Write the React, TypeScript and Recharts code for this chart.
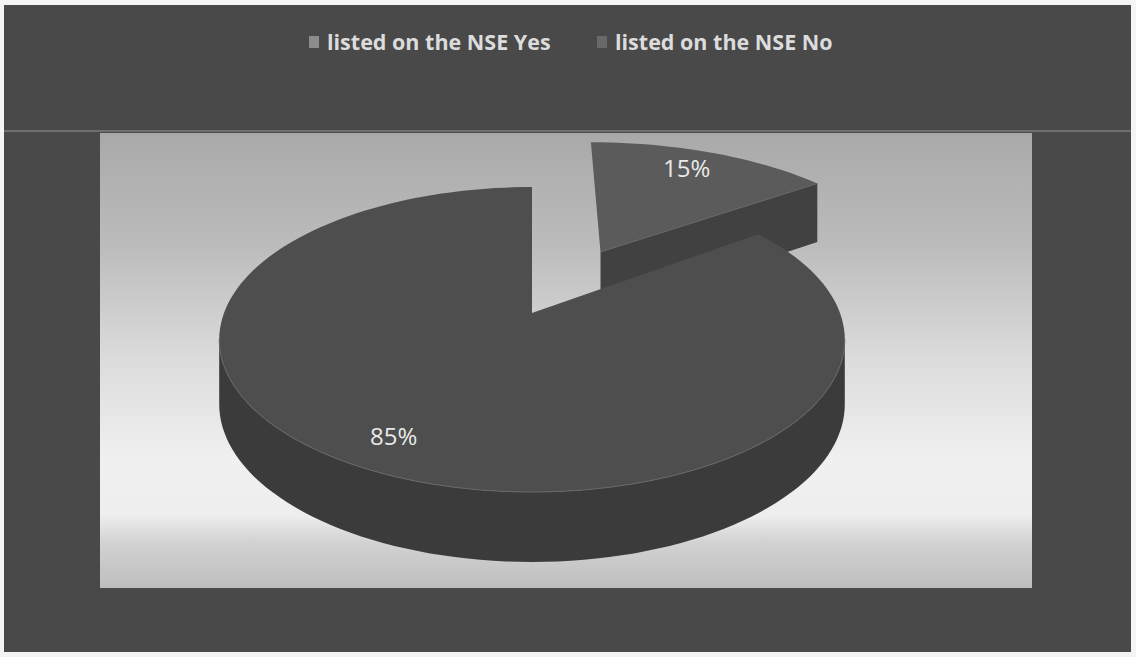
import React from "react";
import { Legend, Pie, PieChart } from "recharts";

const categories = ["listed on the NSE Yes", "listed on the NSE No"];
const shares = [15, 85];

const faceColors = ["#5b5b5b", "#4e4e4e"];
const wallColors = ["#414141", "#3b3b3b"];
const markerColors = ["#8c8c8c", "#696969"];

// disc seen from above: squash flattens it, tilt makes the far side shrink
const squash = 0.48;
const tilt = 0.174;
const wallHeight = 63.6;
const explodeBy = [0.5, 0];
const spreadBy = [1.055, 1];

const chartData = categories.map((name, i) => ({ name, value: shares[i], fill: markerColors[i] }));

const RAD = Math.PI / 180;

// plane coordinates (u right, v away from the viewer) to screen
const project = (u: number, v: number, cx: number, cy: number, r: number, spread: number) => {
    const w = 1 + tilt * v;
    return {
        x: cx + (r * spread * u) / w,
        y: cy - (r * squash * v) / w,
        h: wallHeight / Math.sqrt(w),
    };
};

type Pt = { x: number; y: number; h: number };

const toPath = (pts: { x: number; y: number }[]) =>
    pts.map((p, i) => `${i ? "L" : "M"}${p.x.toFixed(1)} ${p.y.toFixed(1)}`).join(" ");

const Slice3D = (props: any) => {
    const { cx, cy, outerRadius, startAngle, endAngle, name } = props;
    const i = categories.indexOf(name);
    const mid = (startAngle + endAngle) / 2;
    const offU = explodeBy[i] * Math.cos(mid * RAD);
    const offV = explodeBy[i] * Math.sin(mid * RAD);

    const outline: Pt[] = [project(offU, offV, cx, cy, outerRadius, spreadBy[i])];
    const steps = Math.ceil(Math.abs(startAngle - endAngle) / 2);
    for (let s = 0; s <= steps; s++) {
        const a = (startAngle + ((endAngle - startAngle) * s) / steps) * RAD;
        outline.push(project(offU + Math.cos(a), offV + Math.sin(a), cx, cy, outerRadius, spreadBy[i]));
    }

    // edges running right to left face the viewer; group them into unbroken runs
    const runs: Pt[][] = [];
    let run: Pt[] = [];
    for (let k = 1; k < outline.length; k++) {
        const a = outline[k];
        const b = outline[(k + 1) % outline.length];
        if (b.x < a.x) {
            if (!run.length) run.push(a);
            run.push(b);
        } else if (run.length) {
            runs.push(run);
            run = [];
        }
    }
    if (run.length) runs.push(run);

    return (
        <g>
            {runs.map((r, k) => (
                <path
                    key={k}
                    d={toPath([...r, ...[...r].reverse().map((p) => ({ ...p, y: p.y + p.h }))]) + " Z"}
                    fill={wallColors[i]}
                />
            ))}
            <path d={toPath(outline) + " Z"} fill={faceColors[i]} />
            {runs.map((r, k) => (
                <path key={k} d={toPath(r)} fill="none" stroke="#666666" strokeWidth={1} />
            ))}
        </g>
    );
};

const SliceLabel = (props: any) => {
    const { cx, cy, outerRadius, midAngle, value, name } = props;
    const i = categories.indexOf(name);
    const u = (explodeBy[i] + 0.82) * Math.cos(midAngle * RAD);
    const v = (explodeBy[i] + 0.82) * Math.sin(midAngle * RAD);
    const p = project(u, v, cx, cy, outerRadius, spreadBy[i]);
    return (
        <text
            x={p.x - 7}
            y={p.y - 1}
            textAnchor="middle"
            dominantBaseline="central"
            fill="#e9e9e9"
            fontFamily="'Open Sans', sans-serif"
            fontSize={24}
        >
            {value}%
        </text>
    );
};

const LegendRow = ({ payload }: any) => (
    <div style={{ position: "relative", height: 30 }}>
        {(payload || []).map((entry: any, i: number) => (
            <div
                key={entry.value}
                style={{
                    position: "absolute",
                    left: i === 0 ? 309 : 597,
                    top: 0,
                    display: "flex",
                    alignItems: "center",
                    whiteSpace: "nowrap",
                }}
            >
                <span style={{ width: 10, height: 12, marginRight: 8, background: markerColors[i] }} />
                <span
                    style={{
                        color: "#dcdcdc",
                        fontFamily: "'Open Sans', sans-serif",
                        fontWeight: 700,
                        fontSize: 21.5,
                    }}
                >
                    {entry.value}
                </span>
            </div>
        ))}
    </div>
);

const box = (left: number, top: number, width: number, height: number): React.CSSProperties => ({
    position: "absolute",
    left,
    top,
    width,
    height,
});

const App = () => (
    <div style={{ ...box(0, 0, 1136, 657), background: "#f4f4f4", overflow: "hidden" }}>
        <div style={{ ...box(4, 5, 1127, 647), background: "#494949" }} />
        <div style={{ ...box(4, 130, 1127, 2), background: "#6f6f6f" }} />
        <div
            style={{
                ...box(100, 133, 932, 455),
                background:
                    "linear-gradient(180deg, #a9a9a9 0%, #bcbcbc 25%, #dcdcdc 50%, #f0f0f0 72%, #eeeeee 84%, #d2d2d2 90%, #bebebe 100%)",
            }}
        />
        <div style={box(0, 0, 1136, 657)}>
            <PieChart width={1136} height={657} margin={{ top: 0, right: 0, bottom: 0, left: 0 }}>
                <Legend
                    verticalAlign="top"
                    itemSorter={null}
                    wrapperStyle={{ top: 27, left: 0, width: 1136 }}
                    content={<LegendRow />}
                />
                <Pie
                    data={chartData}
                    dataKey="value"
                    nameKey="name"
                    cx={532}
                    cy={283}
                    innerRadius={0}
                    outerRadius={308}
                    startAngle={90}
                    endAngle={-270}
                    stroke="none"
                    shape={Slice3D}
                    label={SliceLabel}
                    labelLine={false}
                    isAnimationActive={false}
                />
            </PieChart>
        </div>
    </div>
);

export default App;
